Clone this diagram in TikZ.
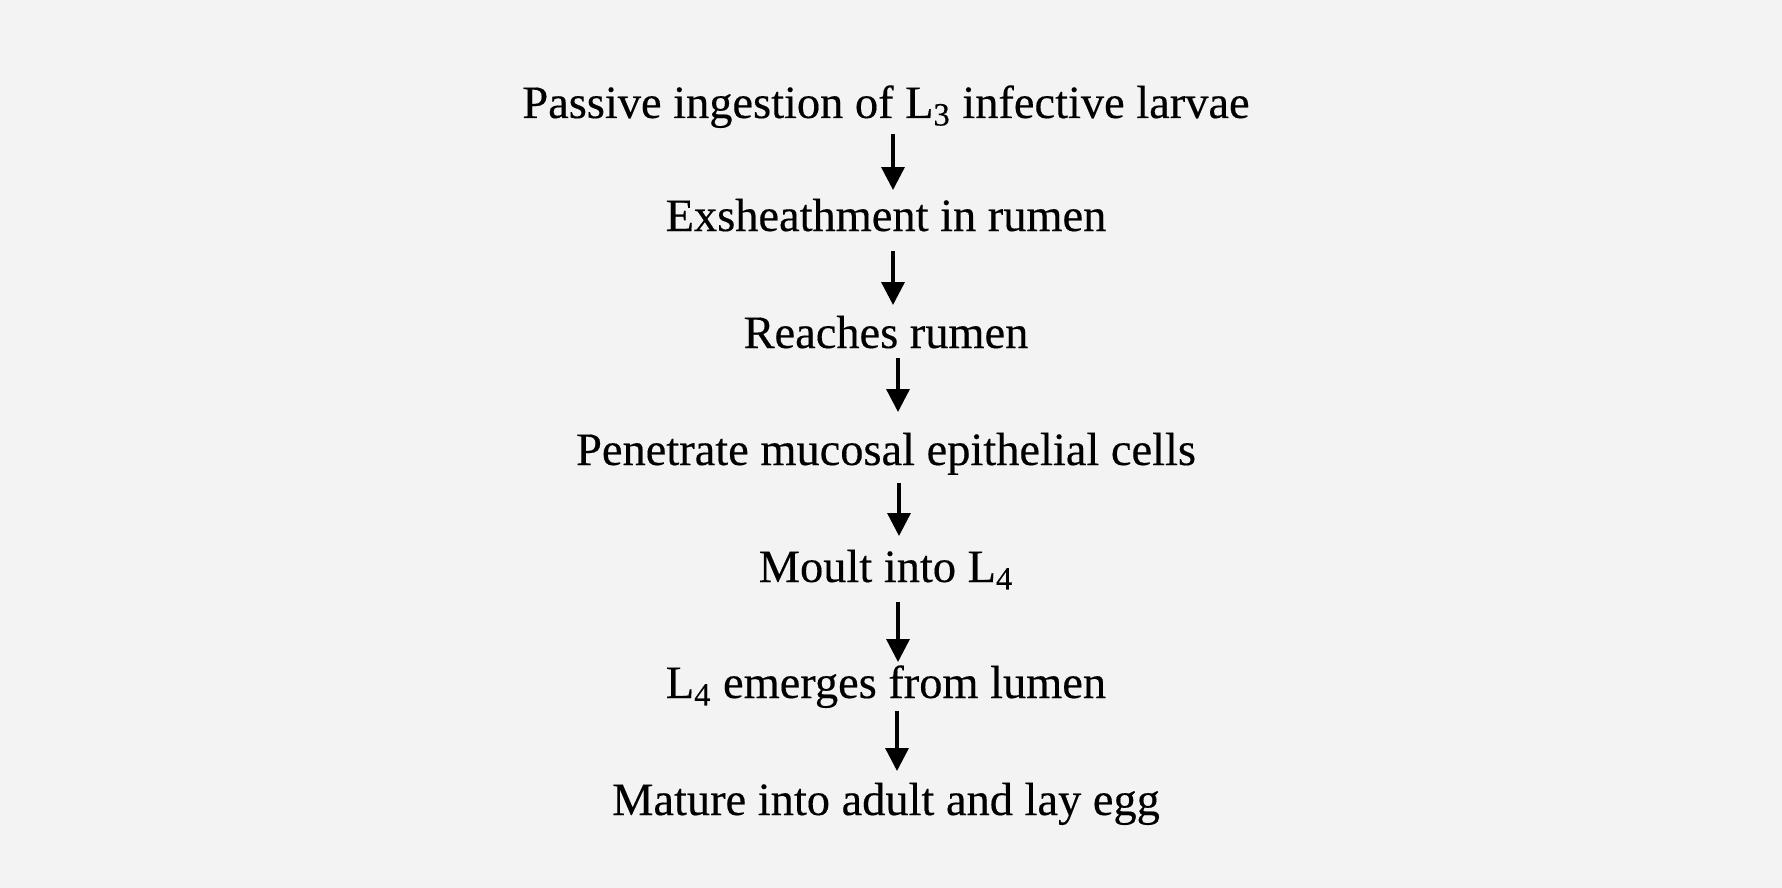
\documentclass[tikz,border=0pt]{standalone}
\usepackage{fontspec}
\setmainfont{Liberation Serif}[FakeBold=0.3]
\usetikzlibrary{arrows.meta}
\definecolor{pagegray}{RGB}{243,243,243}

\begin{document}
\begin{tikzpicture}[x=0.5pt, y=-0.5pt,
  every node/.style={inner sep=0pt, outer sep=0pt, anchor=base, font=\fontsize{23.2}{28}\selectfont},
  stagearrow/.style={line width=1.7pt, -{Triangle[width=11.5pt,length=11.5pt]}}]
\fill[pagegray] (0,0) rectangle (1782,888);
\useasboundingbox (0,0) rectangle (1782,888);

\node (passive) at (886,118) {Passive ingestion of L\textsubscript{3} infective larvae};
\node (exsheath) at (886,231) {Exsheathment in rumen};
\node (reaches) at (886,348) {Reaches rumen};
\node (penetrate) at (886,465) {Penetrate mucosal epithelial cells};
\node (moult) at (886,582) {Moult into L\textsubscript{4}};
\node (emerges) at (886,698) {L\textsubscript{4} emerges from lumen};
\node (mature) at (886,815) {Mature into adult and lay egg};

\draw[stagearrow] ([xshift=3.5pt,yshift=-8pt]passive.base) -- ([xshift=3.5pt,yshift=20.5pt]exsheath.base);
\draw[stagearrow] ([xshift=3.5pt,yshift=-10pt]exsheath.base) -- ([xshift=3.5pt,yshift=21.5pt]reaches.base);
\draw[stagearrow] ([xshift=6pt,yshift=-5pt]reaches.base) -- ([xshift=6pt,yshift=26.5pt]penetrate.base);
\draw[stagearrow] ([xshift=6.5pt,yshift=-9pt]penetrate.base) -- ([xshift=6.5pt,yshift=23pt]moult.base);
\draw[stagearrow] ([xshift=6pt,yshift=-10pt]moult.base) -- ([xshift=6pt,yshift=18pt]emerges.base);
\draw[stagearrow] ([xshift=5.5pt,yshift=-6.5pt]emerges.base) -- ([xshift=5.5pt,yshift=22pt]mature.base);
\end{tikzpicture}
\end{document}
